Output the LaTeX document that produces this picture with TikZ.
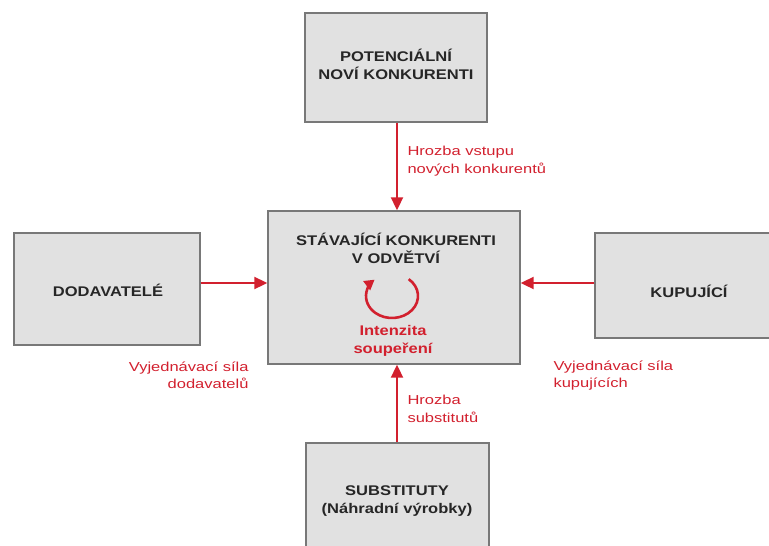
\documentclass[tikz,border=0pt]{standalone}
\usepackage{fontspec}
\setmainfont{Liberation Sans}
\newfontfamily\widefont[FakeStretch=1.18,BoldFeatures={FakeStretch=1.18}]{Liberation Sans}
\newfontfamily\labelfont[FakeStretch=1.27]{Liberation Sans}
\usetikzlibrary{arrows.meta,calc}
\definecolor{boxfill}{HTML}{E1E1E1}
\definecolor{boxline}{HTML}{787878}
\definecolor{forcered}{HTML}{D2202E}
\begin{document}
\begin{tikzpicture}[x=1pt,y=-1pt,
  forcebox/.style={draw=boxline,fill=boxfill,line width=1.4pt,inner sep=0pt},
  boxtext/.style={font=\widefont\bfseries\fontsize{14}{18}\selectfont,align=center,text=black!85},
  redlabel/.style={font=\labelfont\fontsize{13}{17.5}\selectfont,text=forcered},
  forcearrow/.style={draw=forcered,line width=2pt,-{Triangle[length=13pt,width=12pt]}}]
\useasboundingbox (0,0) rectangle (769,546);
\clip (0,0) rectangle (769,546);
% boxes
\node[forcebox,minimum width=182pt,minimum height=109pt] (top) at (396,67.5) {};
\node[forcebox,minimum width=252pt,minimum height=153pt] (mid) at (394,287.5) {};
\node[forcebox,minimum width=186pt,minimum height=112pt] (left) at (107,289) {};
\node[forcebox,minimum width=180pt,minimum height=105pt] (right) at (685,285.5) {};
\node[forcebox,minimum width=183pt,minimum height=117pt] (bot) at (397.5,501.5) {};
% texts
\node[boxtext] (toptext) at (396,64) {POTENCIÁLNÍ\\NOVÍ KONKURENTI};
\node[boxtext] (midtext) at (396,248) {STÁVAJÍCÍ KONKURENTI\\V ODVĚTVÍ};
\node[boxtext] (lefttext) at (108,290) {DODAVATELÉ};
\node[boxtext] (righttext) at (689,291) {KUPUJÍCÍ};
\node[boxtext] (bottext) at (397,501) {SUBSTITUTY\\(Náhradní výrobky)};
% rotation arrow
\coordinate (rc) at (392,296);
\draw[draw=forcered,line width=2.6pt,-{Triangle[length=10pt,width=11pt]}]
  ($(rc)+(50:26pt and 22pt)$) arc[start angle=50,end angle=-228,x radius=26pt,y radius=22pt];
\node[font=\widefont\bfseries\fontsize{14}{18}\selectfont,align=center,text=forcered] (intz) at (393,341) {Intenzita\\soupeření};
% arrows
\draw[forcearrow] (top.south -| 397,0) -- (mid.north -| 397,0);
\draw[forcearrow] (left.east |- 0,283) -- (mid.west |- 0,283);
\draw[forcearrow] (right.west |- 0,283) -- (mid.east |- 0,283);
\draw[forcearrow] (bot.north -| 397,0) -- (mid.south -| 397,0);
% labels
\node[redlabel,anchor=west,align=left] (l1) at (404,161) {Hrozba vstupu\\nových konkurentů};
\node[redlabel,anchor=east,align=right] (l2) at (252,375.5) {Vyjednávací síla\\dodavatelů};
\node[redlabel,anchor=west,align=left] (l3) at (550,375.5) {Vyjednávací síla\\kupujících};
\node[redlabel,anchor=west,align=left] (l4) at (404,409) {Hrozba\\substitutů};
\end{tikzpicture}
\end{document}
